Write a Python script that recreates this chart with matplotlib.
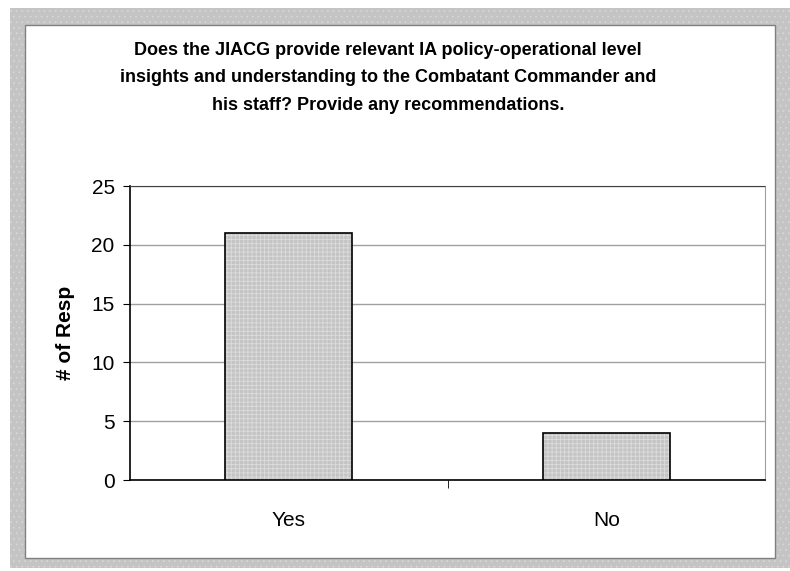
import matplotlib.pyplot as plt
from matplotlib.patches import Rectangle

# data
categories = ['Yes', 'No']
responses = [21, 4]
yTicks = [0, 5, 10, 15, 20, 25]
title = ('Does the JIACG provide relevant IA policy-operational level\n'
         'insights and understanding to the Combatant Commander and\n'
         'his staff? Provide any recommendations.')

plt.rcParams['font.family'] = ['Liberation Sans', 'DejaVu Sans']
plt.rcParams['hatch.linewidth'] = 0.6

fig = plt.figure(figsize=(7.9, 5.71), dpi=100)

# gray textured frame with white panel inside
W, H = 790.0, 571.0
frame = Rectangle((10/W, 1-568/H), 780/W, 560/H, transform=fig.transFigure,
                  facecolor='#c4c4c4', edgecolor='#d6d6d6', linewidth=0,
                  hatch='...', zorder=0)
panel = Rectangle((25/W, 1-558/H), 750/W, 533/H, transform=fig.transFigure,
                  facecolor='white', edgecolor='#808080', linewidth=1.0, zorder=1)
fig.patches.extend([frame, panel])

ax = fig.add_axes([130/W, 1-480/H, 635/W, 294/H])
ax.set_zorder(2)
ax.patch.set_alpha(0)

x = range(len(categories))
# textured fill, then black outline
ax.bar(x, responses, width=0.4, facecolor='#c4c4c4', edgecolor='#dcdcdc',
       linewidth=0, hatch='++++', zorder=3)
ax.bar(x, responses, width=0.4, fill=False, edgecolor='black',
       linewidth=1.2, zorder=4)

ax.set_xlim(-0.5, 1.5)
ax.set_ylim(0, 25)
ax.set_yticks(yTicks)
ax.set_xticks(list(x))
ax.set_xticklabels(categories)
ax.set_xticks([0.5], minor=True)
ax.tick_params(axis='x', which='major', length=0, pad=22, labelsize=15)
ax.tick_params(axis='x', which='minor', length=6, direction='out')
ax.tick_params(axis='y', length=5, direction='out', pad=6, labelsize=15)

ax.yaxis.grid(True, color='#a0a0a0', linewidth=1.0, zorder=0)
ax.set_axisbelow(True)
ax.spines['top'].set_linestyle((0, (1, 1)))
ax.spines['top'].set_color('#404040')
ax.spines['right'].set_color('#a0a0a0')
ax.spines['left'].set_linewidth(1.2)
ax.spines['bottom'].set_linewidth(1.2)

ax.set_ylabel('# of Resp', fontsize=15, fontweight='bold', labelpad=12)

fig.text(388/W, 1-42/H, title, ha='center', va='top', fontsize=13,
         fontweight='bold', linespacing=1.8)

fig.savefig('out.png', dpi=100)
plt.close(fig)
